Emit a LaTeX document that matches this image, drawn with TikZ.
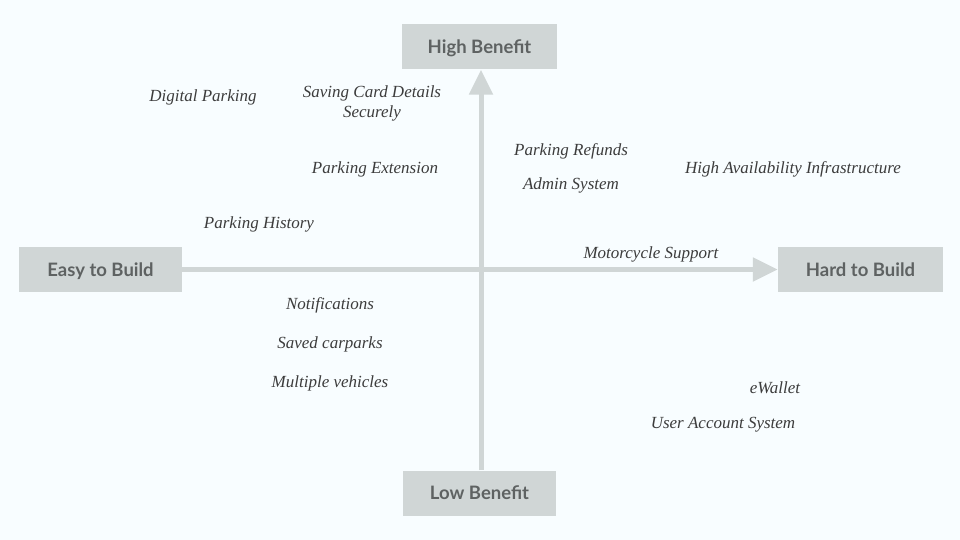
\documentclass[tikz,border=0pt]{standalone}
\usepackage{fontspec}
\setmainfont{Liberation Serif}
\newfontfamily\latofont{Lato}
\usetikzlibrary{arrows.meta}
\definecolor{bgcol}{HTML}{F8FDFF}
\definecolor{boxgray}{HTML}{D0D6D6}
\definecolor{boxtext}{HTML}{5E6262}
\definecolor{itemtext}{HTML}{3C3C3C}
\begin{document}
\begin{tikzpicture}[x=1pt, y=-1pt,
    axisbox/.style={fill=boxgray, text=boxtext, minimum height=45pt,
      text height=13pt, text depth=0pt,
      font=\latofont\bfseries\fontsize{18.5}{22}\selectfont},
    item/.style={text=itemtext, align=center,
      font=\itshape\fontsize{17}{20.5}\selectfont},
    axis/.style={draw=boxgray, line width=5pt,
      -{Triangle[length=25pt, width=23pt]}}]
    \fill[bgcol] (0,0) rectangle (960,540);

    % the four ends of the axes
    \node[axisbox, minimum width=155pt] (high) at (479.5,47) {High Benefit};
    \node[axisbox, minimum width=153pt] (low) at (479.5,493) {Low Benefit};
    \node[axisbox, minimum width=163pt] (easy) at (100.5,269.5) {Easy to Build};
    \node[axisbox, minimum width=165pt] (hard) at (860.5,269.5) {Hard to Build};

    \draw[axis] (easy.east) -- (hard.west);
    \draw[axis] (low.north -| 481,0) -- (high.south -| 481,0);

    % features
    \node[item] (digital) at (203,97.5) {Digital Parking};
    \node[item] (card) at (372,103.5) {Saving Card Details\\Securely};
    \node[item] (extension) at (375,169.5) {Parking Extension};
    \node[item] (history) at (259,224.5) {Parking History};
    \node[item] (refunds) at (571,151.5) {Parking Refunds};
    \node[item] (admin) at (571,185.5) {Admin System};
    \node[item] (availability) at (793,169.5) {High Availability Infrastructure};
    \node[item] (motorcycle) at (651,254.5) {Motorcycle Support};
    \node[item] (notifications) at (330,305.5) {Notifications};
    \node[item] (carparks) at (330,344.5) {Saved carparks};
    \node[item] (vehicles) at (330,383.5) {Multiple vehicles};
    \node[item] (ewallet) at (775,387.5) {eWallet};
    \node[item] (account) at (723,424.5) {User Account System};
\end{tikzpicture}
\end{document}
